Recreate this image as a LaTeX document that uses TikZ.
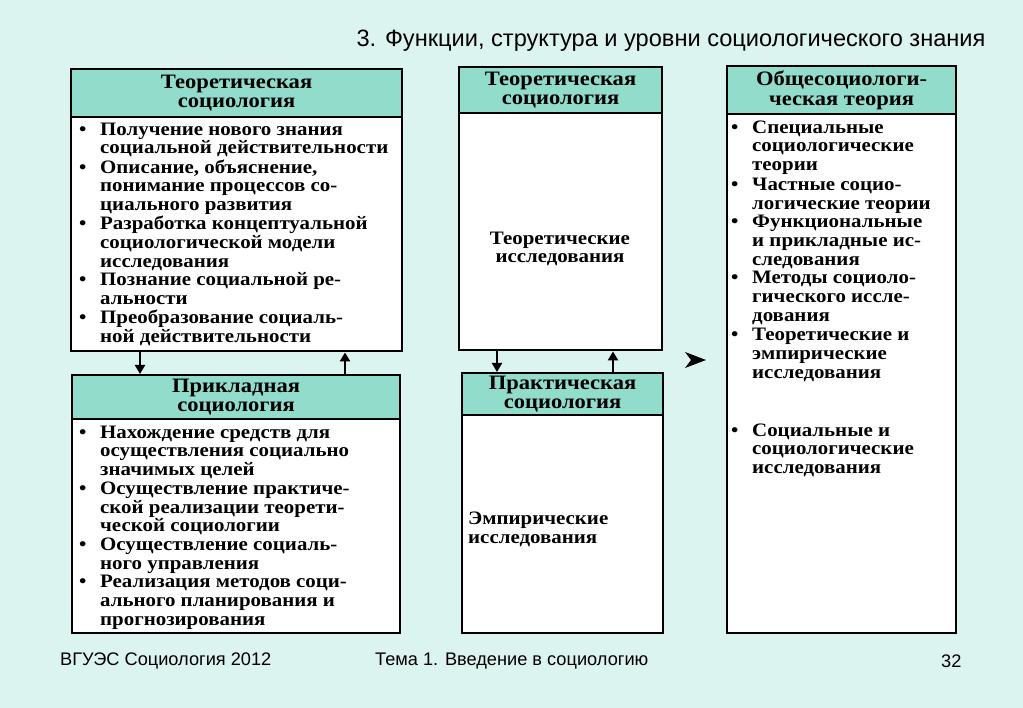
\documentclass[tikz,border=0pt]{standalone}
\usepackage{fontspec}
\usetikzlibrary{arrows.meta}
\setmainfont{Liberation Serif}
\newfontfamily\boxf[FakeStretch=1.1]{Liberation Serif}
\newfontfamily\sansf{Liberation Sans}
\definecolor{bg}{HTML}{DCF4EF}
\definecolor{hdr}{HTML}{92DCCB}
\newcommand\bodyf{\boxf\bfseries\fontsize{19}{18.7}\selectfont}
\newcommand\headf{\boxf\bfseries\fontsize{20.5}{19.5}\selectfont}
\newcommand\footf{\sansf\fontsize{18.2}{21}\selectfont}
\newcommand\bl{\textbullet}
\tikzset{
  frame/.style={draw=black, line width=2.4pt, fill=white, anchor=north west, inner sep=0pt},
  headbox/.style={draw=black, line width=2.2pt, fill=hdr, anchor=north west, inner sep=0pt, align=center, font=\headf},
  bodytext/.style={anchor=north west, inner sep=0pt, align=left, font=\bodyf},
  arr/.style={line width=2.2pt, -{Triangle[length=9pt,width=10pt]}},
}
\begin{document}
\begin{tikzpicture}[x=1pt,y=-1pt]
\fill[bg] (0,0) rectangle (1023,708);
\useasboundingbox (0,0) rectangle (1023,708);

% title
\node[font=\sansf\fontsize{23.6}{27}\selectfont] (title) at (671,41) {3. Функции, структура и уровни социологического знания};

% left top box
\node[frame, minimum width=331pt, minimum height=282pt] (b1) at (70,68) {};
\node[headbox, minimum width=331pt, minimum height=48pt] (h1) at (70,68) {Теоретическая\\социология};
\node[bodytext] (t1) at (79,122) {\begin{tabular}{@{}p{21pt}@{}l@{}}
\bl & Получение нового знания\\
 & социальной действительности\\
\bl & Описание, объяснение,\\
 & понимание процессов со-\\
 & циального развития\\
\bl & Разработка концептуальной\\
 & социологической модели\\
 & исследования\\
\bl & Познание социальной ре-\\
 & альности\\
\bl & Преобразование социаль-\\
 & ной действительности
\end{tabular}};

% left bottom box
\node[frame, minimum width=328pt, minimum height=258pt] (b2) at (71,374) {};
\node[headbox, minimum width=328pt, minimum height=44pt] (h2) at (71,374) {Прикладная\\социология};
\node[bodytext] (t2) at (79,425) {\begin{tabular}{@{}p{21pt}@{}l@{}}
\bl & Нахождение средств для\\
 & осуществления социально\\
 & значимых целей\\
\bl & Осуществление практиче-\\
 & ской реализации теорети-\\
 & ческой социологии\\
\bl & Осуществление социаль-\\
 & ного управления\\
\bl & Реализация методов соци-\\
 & ального планирования и\\
 & прогнозирования
\end{tabular}};

% middle top box
\node[frame, minimum width=203pt, minimum height=283pt] (b3) at (458,66) {};
\node[headbox, minimum width=203pt, minimum height=46pt] (h3) at (458,66) {Теоретическая\\социология};
\node[font=\bodyf, align=center, inner sep=0pt] (t3) at (560,249) {Теоретические\\исследования};

% middle bottom box
\node[frame, minimum width=201pt, minimum height=260pt] (b4) at (461,372) {};
\node[headbox, minimum width=201pt, minimum height=42pt] (h4) at (461,372) {Практическая\\социология};
\node[bodytext] (t4) at (468,512) {Эмпирические\\исследования};

% right box
\node[frame, minimum width=229pt, minimum height=567pt] (b5) at (726,65) {};
\node[headbox, minimum width=229pt, minimum height=48pt] (h5) at (726,65) {Общесоциологи-\\ческая теория};
\node[bodytext] (t5) at (731,120) {\begin{tabular}{@{}p{21pt}@{}l@{}}
\bl & Специальные\\
 & социологические\\
 & теории\\[1pt]
\bl & Частные социо-\\
 & логические теории\\
\bl & Функциональные\\
 & и прикладные ис-\\
 & следования\\
\bl & Методы социоло-\\
 & гического иссле-\\
 & дования\\[1pt]
\bl & Теоретические и\\
 & эмпирические\\
 & исследования\\[39pt]
\bl & Социальные и\\
 & социологические\\
 & исследования
\end{tabular}};

% connectors
\coordinate (xa) at (140,0);
\coordinate (xb) at (345,0);
\coordinate (xc) at (497,0);
\coordinate (xd) at (613,0);
\draw[arr] (b1.south -| xa) -- (b2.north -| xa);
\draw[arr] (b2.north -| xb) -- (b1.south -| xb);
\draw[arr] (b3.south -| xc) -- (b4.north -| xc);
\draw[arr] (b4.north -| xd) -- (b3.south -| xd);

% stray arrowhead
\fill (685,352) -- (706,360) -- (685,368) -- (691,360) -- cycle;

% footer
\node[font=\footf, anchor=west, inner sep=0pt] (f1) at (60,661) {ВГУЭС Социология 2012};
\node[font=\footf, anchor=west, inner sep=0pt] (f2) at (375,661) {Тема 1. Введение в социологию};
\node[font=\footf, anchor=west, inner sep=0pt] (f3) at (941,661) {32};
\end{tikzpicture}
\end{document}
